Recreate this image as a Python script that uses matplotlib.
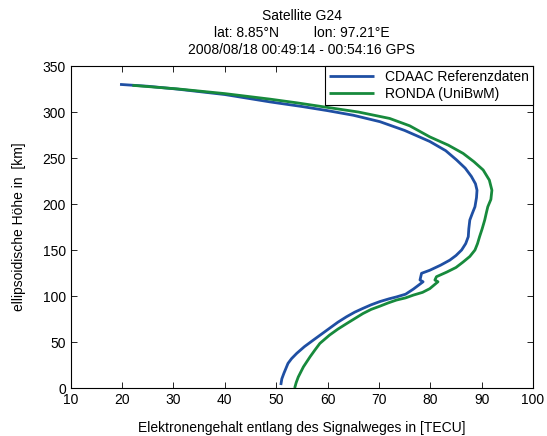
import matplotlib
matplotlib.use('Agg')
import matplotlib.pyplot as plt

plt.rcParams['font.family'] = ['Liberation Sans', 'DejaVu Sans']

# CDAAC reference profile (TEC, height)
cdaac_tec = [50.9, 51.1, 51.5, 52.3, 53.0, 54.0, 55.5, 57.2, 58.8, 60.4, 62.0, 63.7, 65.3,
             66.9, 68.5, 70.2, 72.0, 73.4, 75.2, 76.7, 78.6, 78.0, 78.3, 79.9, 82.0, 83.8,
             85.0, 86.1, 86.9, 87.4, 87.5, 87.7, 88.2, 88.7, 89.0, 89.1, 88.8, 88.0, 86.8,
             85.1, 83.0, 79.9, 75.0, 70.2, 65.0, 60.0, 55.0, 48.8, 40.0, 30.6, 25.0, 19.6]
cdaac_h = [3.3, 10, 16, 26.8, 32, 37.7, 45, 52, 58.5, 65, 71.5, 77.5, 82.5,
           86.6, 90.5, 94, 97, 99, 102, 107.5, 115.5, 117.4, 124.7, 128, 133.5, 139,
           144, 150, 157, 164.5, 173, 182.6, 190, 197, 207, 215, 222, 230, 239,
           248, 258, 268, 280, 289.5, 296.5, 301.5, 306, 311, 319, 325, 328, 330]

# RONDA (UniBwM) profile
ronda_tec = [53.6, 53.9, 54.3, 55.3, 56.6, 57.5, 58.5, 60.4, 62.0, 63.7, 65.3, 66.9, 68.5,
             70.2, 71.8, 73.4, 75.2, 76.7, 78.5, 79.9, 81.5, 80.9, 81.2, 83.2, 85.0, 86.4,
             87.7, 88.7, 89.2, 89.6, 90.1, 90.6, 90.9, 91.2, 91.8, 92.0, 91.5, 90.3, 88.5,
             86.4, 83.5, 79.9, 76.0, 72.1, 66.0, 60.0, 54.0, 48.8, 40.0, 31.0, 22.0]
ronda_h = [0, 6, 12, 23, 34, 41, 48.5, 57.6, 64, 70, 75.5, 81, 85.5,
           89, 92.5, 95.6, 98, 101, 104, 108, 115.5, 117.4, 121, 126, 131, 137,
           143, 150, 157, 164.5, 173, 182.6, 190, 197, 205, 215, 226, 237, 246,
           255, 264, 273, 285, 293, 300, 305, 310, 314, 320, 325, 329]

fig = plt.figure(figsize=(5.47, 4.36), dpi=100)
ax = fig.add_axes([0.1293, 0.110, 0.8451, 0.7386])

ax.plot(cdaac_tec, cdaac_h, color='#1f4fa3', lw=2.0, label='CDAAC Referenzdaten',
        solid_joinstyle='round', solid_capstyle='butt')
ax.plot(ronda_tec, ronda_h, color='#178a3c', lw=2.0, label='RONDA (UniBwM)',
        solid_joinstyle='round', solid_capstyle='butt')

ax.set_xlim(10, 100)
ax.set_ylim(0, 350)
ax.set_xticks(range(10, 101, 10))
ax.set_yticks(range(0, 351, 50))
ax.tick_params(direction='in', top=True, right=True, labelsize=10, length=4, width=0.6)
for s in ax.spines.values():
    s.set_linewidth(0.8)

ax.set_xlabel('Elektronengehalt entlang des Signalweges in [TECU]', fontsize=10, labelpad=10)
ax.set_ylabel('ellipsoidische Höhe in  [km]', fontsize=10, labelpad=12)
ax.set_title('Satellite G24\nlat: 8.85°N         lon: 97.21°E\n2008/08/18 00:49:14 - 00:54:16 GPS',
             fontsize=10, linespacing=1.25, pad=9)

leg = ax.legend(loc='upper right', fontsize=10, fancybox=False, framealpha=1,
                borderaxespad=0, handlelength=3.2, borderpad=0.3, labelspacing=0.2)
leg.get_frame().set_edgecolor('black')
leg.get_frame().set_linewidth(0.8)

fig.savefig('out.png', dpi=100)
